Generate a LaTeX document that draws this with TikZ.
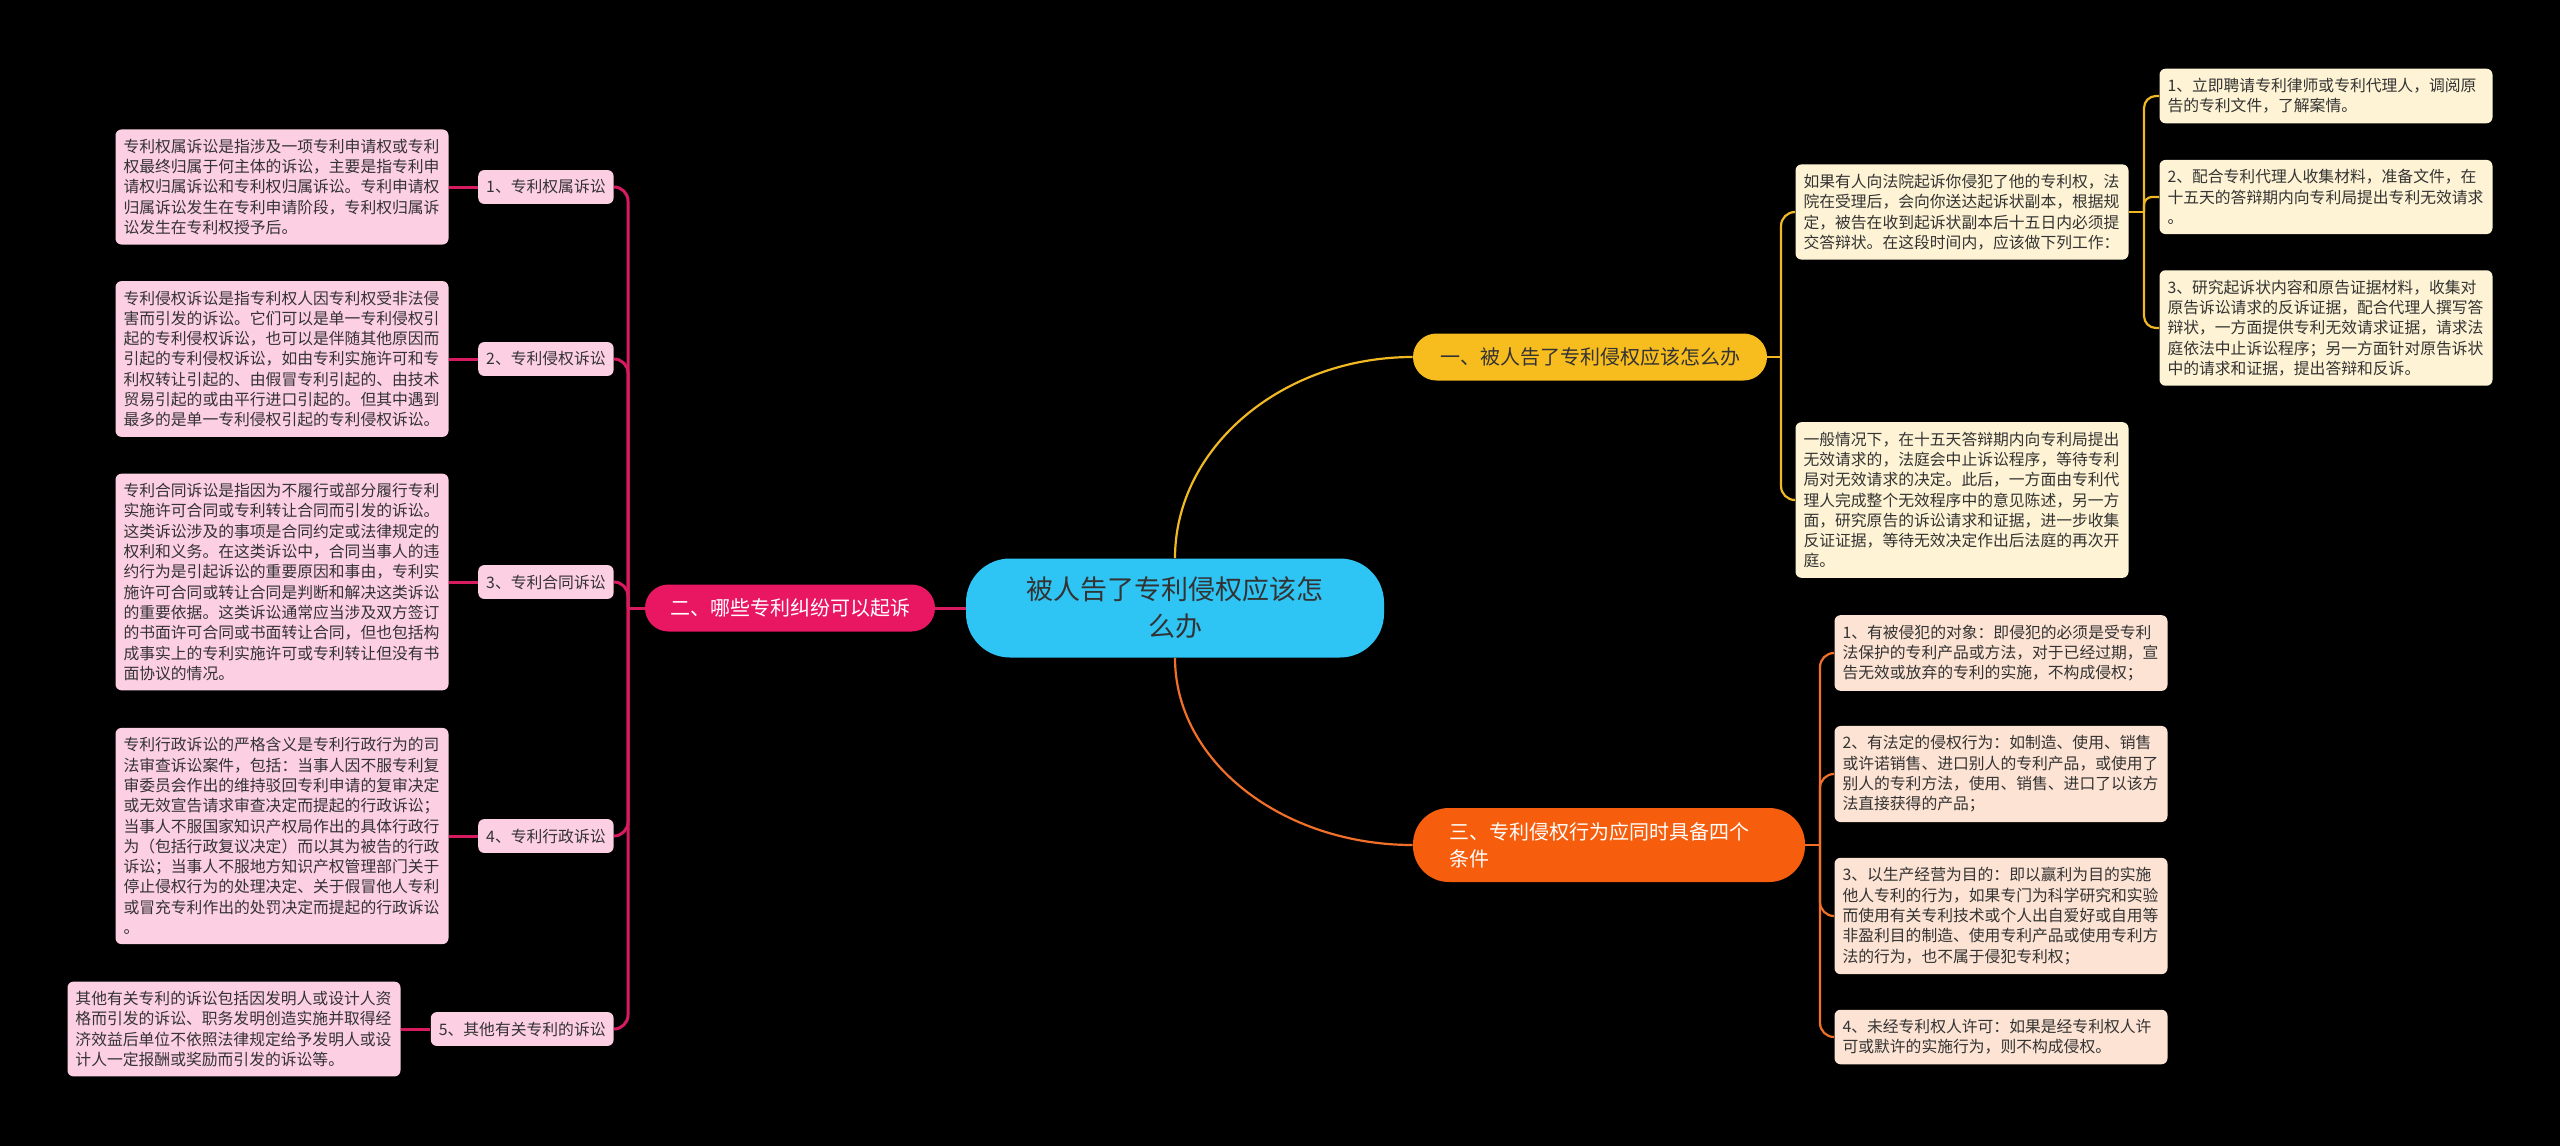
\documentclass[tikz,border=0pt]{standalone}
\usepackage{fontspec}
\newfontfamily\cjk{Noto Sans CJK SC}
\definecolor{txt}{HTML}{333333}
\definecolor{cyanc}{HTML}{2EC5F5}
\definecolor{yelb}{HTML}{F7BC1E}
\definecolor{yell}{HTML}{F0B823}
\definecolor{yelbox}{HTML}{FEF3D4}
\definecolor{pinkb}{HTML}{E91762}
\definecolor{pinkl}{HTML}{D81B60}
\definecolor{pinkbox}{HTML}{FDCFE3}
\definecolor{orgb}{HTML}{F65D0D}
\definecolor{orgl}{HTML}{F0702A}
\definecolor{orgbox}{HTML}{FDE3D3}
\tikzset{
  smallfont/.style={font=\cjk\fontsize{7.9pt}{10.15pt}\selectfont},
  box/.style={smallfont, rounded corners=3pt, inner xsep=4pt, inner ysep=4.8pt,
    text width=158.5pt, align=left, text=txt},
  pbox/.style={box, fill=pinkbox},
  ybox/.style={box, fill=yelbox},
  obox/.style={box, fill=orgbox},
  plab/.style={smallfont, rounded corners=3pt, fill=pinkbox, inner xsep=4pt,
    inner ysep=4.8pt, text=txt, anchor=east},
  bigfont/.style={font=\cjk\fontsize{10pt}{13.5pt}\selectfont},
  b1s/.style={bigfont, fill=yelb, text=txt, minimum width=177pt, minimum height=23.5pt,
    rounded corners=11.7pt, inner sep=0pt},
  b2s/.style={bigfont, fill=pinkb, text=white, minimum width=145pt, minimum height=23.5pt,
    rounded corners=11.7pt, inner sep=0pt},
  b3s/.style={bigfont, fill=orgb, text=white, minimum width=196pt, minimum height=37pt,
    rounded corners=18pt, inner sep=0pt, text width=160pt, align=left},
  cnode/.style={font=\cjk\fontsize{13.5pt}{18.5pt}\selectfont, fill=cyanc, text=txt,
    minimum width=209pt, minimum height=49.5pt, rounded corners=22pt, inner sep=0pt,
    text width=170pt, align=center},
  pline/.style={draw=pinkl, line width=1.5pt},
  yline/.style={draw=yell, line width=1.1pt},
  oline/.style={draw=orgl, line width=1.1pt},
}
\begin{document}
\begin{tikzpicture}[x=0.5pt,y=-0.5pt]
\fill[black] (0,0) rectangle (2560,1146);
\useasboundingbox (0,0) rectangle (2560,1146);

% central and main branches
\node[cnode] (c) at (1175,608) {被人告了专利侵权应该怎\\么办};
\node[b1s] (b1) at (1590,357) {一、被人告了专利侵权应该怎么办};
\node[b2s] (b2) at (790,608) {二、哪些专利纠纷可以起诉};
\node[b3s] (b3) at (1609,845) {三、专利侵权行为应同时具备四个\\条件};

% left labels
\node[plab] (p1) at (614,187) {1、专利权属诉讼};
\node[plab] (p2) at (614,359) {2、专利侵权诉讼};
\node[plab] (p3) at (614,582) {3、专利合同诉讼};
\node[plab] (p4) at (614,836) {4、专利行政诉讼};
\node[plab] (p5) at (614,1029) {5、其他有关专利的诉讼};

% left text boxes
\node[pbox] (pt1) at (282,187) {专利权属诉讼是指涉及一项专利申请权或专利\\权最终归属于何主体的诉讼，主要是指专利申\\请权归属诉讼和专利权归属诉讼。专利申请权\\归属诉讼发生在专利申请阶段，专利权归属诉\\讼发生在专利权授予后。};
\node[pbox] (pt2) at (282,359) {专利侵权诉讼是指专利权人因专利权受非法侵\\害而引发的诉讼。它们可以是单一专利侵权引\\起的专利侵权诉讼，也可以是伴随其他原因而\\引起的专利侵权诉讼，如由专利实施许可和专\\利权转让引起的、由假冒专利引起的、由技术\\贸易引起的或由平行进口引起的。但其中遇到\\最多的是单一专利侵权引起的专利侵权诉讼。};
\node[pbox] (pt3) at (282,582) {专利合同诉讼是指因为不履行或部分履行专利\\实施许可合同或专利转让合同而引发的诉讼。\\这类诉讼涉及的事项是合同约定或法律规定的\\权利和义务。在这类诉讼中，合同当事人的违\\约行为是引起诉讼的重要原因和事由，专利实\\施许可合同或转让合同是判断和解决这类诉讼\\的重要依据。这类诉讼通常应当涉及双方签订\\的书面许可合同或书面转让合同，但也包括构\\成事实上的专利实施许可或专利转让但没有书\\面协议的情况。};
\node[pbox] (pt4) at (282,836) {专利行政诉讼的严格含义是专利行政行为的司\\法审查诉讼案件，包括：当事人因不服专利复\\审委员会作出的维持驳回专利申请的复审决定\\或无效宣告请求审查决定而提起的行政诉讼；\\当事人不服国家知识产权局作出的具体行政行\\为（包括行政复议决定）而以其为被告的行政\\诉讼；当事人不服地方知识产权管理部门关于\\停止侵权行为的处理决定、关于假冒他人专利\\或冒充专利作出的处罚决定而提起的行政诉讼\\。};
\node[pbox] (pt5) at (234,1029) {其他有关专利的诉讼包括因发明人或设计人资\\格而引发的诉讼、职务发明创造实施并取得经\\济效益后单位不依照法律规定给予发明人或设\\计人一定报酬或奖励而引发的诉讼等。};

% right yellow
\node[ybox] (y1) at (1962,212) {如果有人向法院起诉你侵犯了他的专利权，法\\院在受理后，会向你送达起诉状副本，根据规\\定，被告在收到起诉状副本后十五日内必须提\\交答辩状。在这段时间内，应该做下列工作：};
\node[ybox] (y2) at (1962,500) {一般情况下，在十五天答辩期内向专利局提出\\无效请求的，法庭会中止诉讼程序，等待专利\\局对无效请求的决定。此后，一方面由专利代\\理人完成整个无效程序中的意见陈述，另一方\\面，研究原告的诉讼请求和证据，进一步收集\\反证证据，等待无效决定作出后法庭的再次开\\庭。};
\node[ybox] (y1a) at (2326,96) {1、立即聘请专利律师或专利代理人，调阅原\\告的专利文件，了解案情。};
\node[ybox] (y1b) at (2326,197) {2、配合专利代理人收集材料，准备文件，在\\十五天的答辩期内向专利局提出专利无效请求\\。};
\node[ybox] (y1c) at (2326,328) {3、研究起诉状内容和原告证据材料，收集对\\原告诉讼请求的反诉证据，配合代理人撰写答\\辩状，一方面提供专利无效请求证据，请求法\\庭依法中止诉讼程序；另一方面针对原告诉状\\中的请求和证据，提出答辩和反诉。};

% right orange
\node[obox] (o1) at (2001,653) {1、有被侵犯的对象：即侵犯的必须是受专利\\法保护的专利产品或方法，对于已经过期，宣\\告无效或放弃的专利的实施，不构成侵权；};
\node[obox] (o2) at (2001,774) {2、有法定的侵权行为：如制造、使用、销售\\或许诺销售、进口别人的专利产品，或使用了\\别人的专利方法，使用、销售、进口了以该方\\法直接获得的产品；};
\node[obox] (o3) at (2001,916) {3、以生产经营为目的：即以赢利为目的实施\\他人专利的行为，如果专门为科学研究和实验\\而使用有关专利技术或个人出自爱好或自用等\\非盈利目的制造、使用专利产品或使用专利方\\法的行为，也不属于侵犯专利权；};
\node[obox] (o4) at (2001,1037) {4、未经专利权人许可：如果是经专利权人许\\可或默许的实施行为，则不构成侵权。};

% trunk coordinates
\coordinate (t2) at (628,608);
\coordinate (t1) at (1781,357);
\coordinate (t11) at (2144,212);
\coordinate (t3) at (1820,845);

% center connectors
\draw[yline] (c.north) .. controls +(0,-111) and +(-130,0) .. (b1.west);
\draw[oline] (c.south) .. controls +(0,104) and +(-130,0) .. (b3.west);
\draw[pline] (c.west) -- (b2.east);

% pink tree
\draw[pline] (b2.west) -- (t2);
\foreach \n in {p1,p2,p3,p4,p5}{
  \draw[pline, rounded corners=7pt] (t2) |- (\n.east);
}
\draw[pline] (p1.west) -- (pt1.east);
\draw[pline] (p2.west) -- (pt2.east);
\draw[pline] (p3.west) -- (pt3.east);
\draw[pline] (p4.west) -- (pt4.east);
\draw[pline] (p5.west) -- (pt5.east);

% yellow tree
\draw[yline] (b1.east) -- (t1);
\draw[yline, rounded corners=7pt] (t1) |- (y1.west);
\draw[yline, rounded corners=7pt] (t1) |- (y2.west);
\draw[yline] (y1.east) -- (t11);
\draw[yline, rounded corners=6pt] (t11) |- (y1a.west);
\draw[yline, rounded corners=4pt] (t11) |- (y1b.west);
\draw[yline, rounded corners=6pt] (t11) |- (y1c.west);

% orange tree
\draw[oline] (b3.east) -- (t3);
\foreach \n in {o1,o2,o3,o4}{
  \draw[oline, rounded corners=7pt] (t3) |- (\n.west);
}
\end{tikzpicture}
\end{document}
